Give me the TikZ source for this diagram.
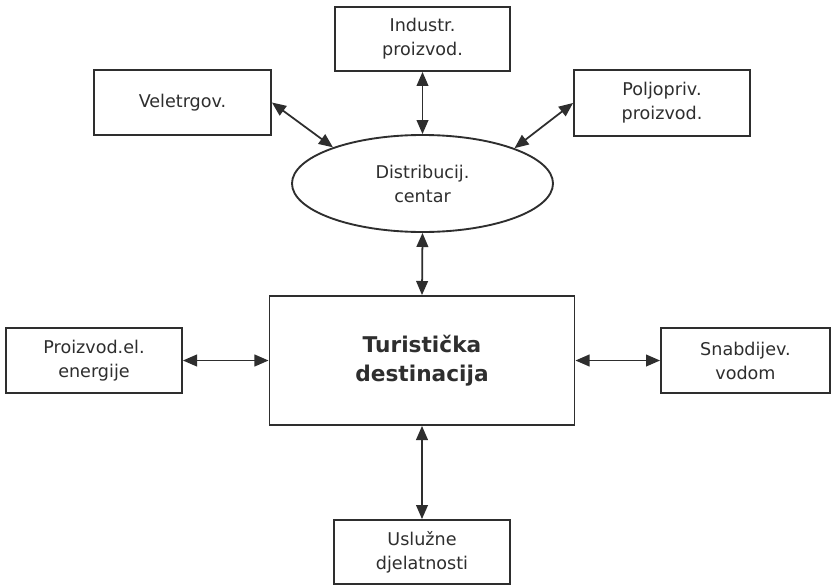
\documentclass[tikz,border=0pt]{standalone}
\usepackage{fontspec}
\setmainfont{DejaVu Sans}
\usetikzlibrary{shapes.geometric,arrows.meta}
\definecolor{ink}{HTML}{2e2e2e}
\begin{document}
\begin{tikzpicture}[x=0.03cm,y=-0.03cm]
\tikzstyle{every node}+=[inner sep=0pt,text=ink,align=center,font=\fontsize{15}{20.5}\selectfont]
\tikzstyle{box}=[draw=ink,line width=1.6pt,rectangle]
\tikzstyle{link}=[draw=ink,line width=1.5pt,{Triangle[length=12pt,width=10pt]}-{Triangle[length=12pt,width=10pt]}]
\useasboundingbox [fill=white] (0,0) rectangle (831,585);
\node [box,minimum width=5.25cm,minimum height=1.92cm] (ind) at (422.5,39) {Industr.\\proizvod.};
\node [box,minimum width=5.31cm,minimum height=1.95cm] (vel) at (182.5,102.5) {Veletrgov.};
\node [box,minimum width=5.28cm,minimum height=1.98cm] (pol) at (662,103) {Poljopriv.\\proizvod.};
\node [draw=ink,line width=1.6pt,ellipse,minimum width=7.83cm,minimum height=2.91cm] (dist) at (422.5,183.5) {Distribucij.\\centar};
\node [box,minimum width=9.15cm,minimum height=3.87cm,font=\bfseries\fontsize{18.5}{25}\selectfont] (tur) at (422,360.5) {Turistička\\destinacija};
\node [box,minimum width=5.28cm,minimum height=1.95cm] (proiz) at (94,360.5) {Proizvod.el.\\energije};
\node [box,minimum width=5.07cm,minimum height=1.95cm] (snab) at (745.5,360.5) {Snabdijev.\\vodom};
\node [box,minimum width=5.28cm,minimum height=1.92cm] (usl) at (422,552) {Uslužne\\djelatnosti};
\draw [link] (ind.south) -- (dist.north);
\draw [link] (vel.east) -- (dist.158);
\draw [link] (pol.west) -- (dist.21);
\draw [link] (dist.south) -- (tur.north);
\draw [link] (proiz.east) -- (tur.west);
\draw [link] (tur.east) -- (snab.west);
\draw [link] (tur.south) -- (usl.north);
\end{tikzpicture}
\end{document}
